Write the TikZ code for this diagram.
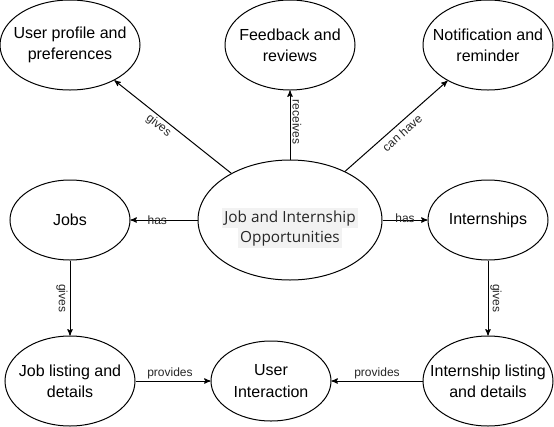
\documentclass[tikz,border=0pt]{standalone}
\usepackage{fontspec}
\setmainfont{Liberation Sans}
\newfontfamily\hubfont{Open Sans}
\usepackage{tikz}
\usetikzlibrary{shapes.geometric, arrows, positioning}
\definecolor{hubbg}{HTML}{F2F2F2}

\begin{document}
\begin{tikzpicture}[x=0.75pt, y=-0.75pt, auto, >=stealth', line width=0.75pt,
    blob/.style={draw, ellipse, align=center, inner xsep=-16pt, minimum width=97.5pt, minimum height=67.5pt, font=\fontsize{12}{16}\selectfont},
    small/.style={minimum width=90pt, minimum height=60pt},
    tag/.style={font=\fontsize{9}{11}\selectfont, text=black!85, inner sep=1.5pt}]
    \useasboundingbox (0,0) rectangle (554,426);

    \node [blob, minimum width=138pt, minimum height=90pt] (hub) at (290,220) {};
    \node [align=center, font=\hubfont\fontsize{11.5}{15}\selectfont\setlength{\fboxsep}{0pt}, text=black!85, inner sep=0pt] (hubtext) at ([yshift=-6pt]hub.center)
        {\colorbox{hubbg}{\strut\,Job and Internship\,}\\\colorbox{hubbg}{\strut\,Opportunities\,}};

    \node [blob, small, left of=hub, node distance=165pt] (jobs) {Jobs};
    \node [blob, small, right of=hub, node distance=148.5pt] (intern) {Internships};
    \node [blob, above of=hub, node distance=131.25pt] (feedback) {Feedback and\\reviews};
    \node [blob, minimum width=105pt, above of=jobs, node distance=131.25pt] (profile) {User profile and\\preferences};
    \node [blob, above of=intern, node distance=131.25pt] (notify) {Notification and\\reminder};
    \node [blob, below of=jobs, node distance=120.75pt] (joblist) {Job listing and\\details};
    \node [blob, below of=intern, node distance=120.75pt] (intlist) {Internship listing\\and details};
    \node [blob, small, right of=joblist, node distance=150.75pt] (userint) {User\\Interaction};

    \draw[->] (hub) -- node[tag, pos=.58, sloped, below] {gives} (profile);
    \draw[->] (hub) -- node[tag, pos=.54, rotate=-90, anchor=south] {receives} (feedback);
    \draw[->] (hub) -- node[tag, midway, sloped, below, inner sep=3pt] {can have} (notify);
    \draw[->] (hub) -- node[tag, pos=.6, anchor=center] {has} (jobs);
    \draw[->] (hub) -- node[tag, midway, anchor=center, yshift=1.5pt] {has} (intern);
    \draw[->] (jobs) -- node[tag, midway, rotate=-90, anchor=north] {gives} (joblist);
    \draw[->] (intern) -- node[tag, midway, rotate=-90, anchor=south] {gives} (intlist);
    \draw[->] (joblist) -- node[tag, pos=.46, above] {provides} (userint);
    \draw[->] (intlist) -- node[tag, midway, above] {provides} (userint);
\end{tikzpicture}
\end{document}
